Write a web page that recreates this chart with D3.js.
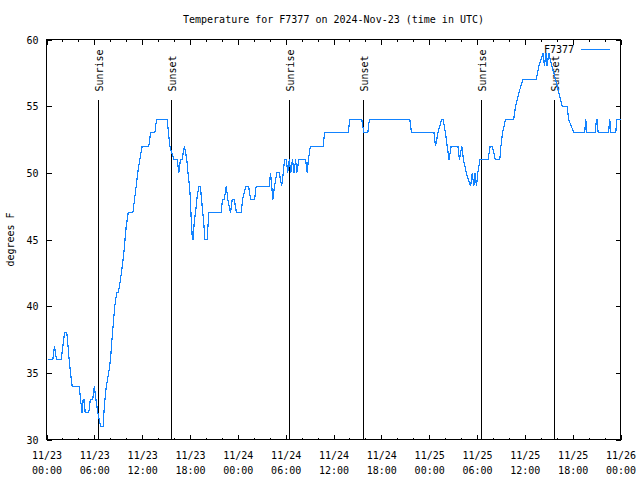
<!DOCTYPE html>
<html>
<head>
<meta charset="utf-8">
<script src="https://cdn.jsdelivr.net/npm/d3@7"></script>
<style>
  html, body { margin: 0; padding: 0; background: #fff; }
  svg { display: block; }
  text { font-family: "DejaVu Sans Mono", monospace; font-size: 10px; fill: #000; }
</style>
</head>
<body>
<svg id="chart" width="640" height="480"></svg>
<script>
// ---- data (hours after 2024-11-23 00:00 UTC, temperature in °F) ----
const hours = [0.2,0.79,1.0,1.25,1.84,2.05,2.26,2.55,2.7,2.84,3.01,3.22,4.1,4.27,4.47,4.6,4.75,4.85,5.3,5.5,5.8,6.0,6.2,6.44,6.77,7.1,7.2,7.33,7.5,7.8,8.03,8.15,8.28,8.42,8.57,8.8,9.0,9.28,9.5,9.7,9.85,10.0,10.25,10.83,11.04,11.25,11.45,11.7,12.0,12.83,13.05,13.59,13.8,15.14,15.3,15.47,15.7,16.0,16.4,16.6,16.8,17.0,17.3,17.6,17.75,17.94,18.05,18.15,18.3,18.4,18.55,18.7,18.85,19.1,19.3,19.45,19.6,19.7,19.86,20.15,20.36,21.9,22.08,22.3,22.54,22.75,23.08,23.3,23.55,23.83,24.42,24.6,24.8,25.0,25.35,25.6,26.1,26.3,27.93,28.1,28.4,28.6,28.9,29.2,29.5,29.7,29.86,30.1,30.25,30.45,30.65,30.85,31.05,31.25,31.4,31.65,32.5,32.7,32.85,33.1,34.7,34.87,37.84,38.05,39.55,39.8,40.3,40.5,45.57,45.78,48.6,48.8,49.1,49.55,49.75,50.05,50.26,50.5,50.76,51.6,51.8,52.1,52.3,52.65,53.2,53.4,53.6,53.75,53.94,54.1,54.37,55.38,55.65,55.9,56.3,56.86,57.0,57.2,57.58,58.6,58.84,59.25,59.75,61.42,61.75,62.3,62.45,62.65,62.8,63.0,63.4,63.85,64.25,64.7,65.3,65.5,66.15,67.5,67.65,67.8,68.8,69.0,69.05,69.2,70.5,70.65,70.8,71.4,71.55,72.0];
const temps = [36,36,37,36,36,37,38,38,37,36,35,34,34,33,32,33,33,32,32,33,33,34,33,32,31,31,32,33,34,35,36,37,38,39,40,41,41,42,43,44,45,46,47,47,48,49,50,51,52,52,53,53,54,54,53,52,51.5,51,51,50,51,51,52,51,50,49,48,46.5,45,45,46.5,47,48,49,49,48,47,46.5,45,45,47,47,48,48,49,48,47,48,48,47,47,48,48.5,49,49,48,48,49,49,50,48,49,50,50,49,50,51,51,50,51,50,51,50,51,50,51,51,50,51,52,52,53,53,54,54,53,53,54,54,53,53,52,53,54,54,53,52,51,52,52,51,52,51,50,49,50,49,50,49,50,51,51,52,52,51,51,52,53,54,54,55,56,57,57,58,59,58,59,58,59,58,57,56,55,55,54,53,53,54,53,53,54,54,53,53,54,53,53,54,54];
const sunriseHours = [6.53, 30.49, 54.51];
const sunsetHours = [15.69, 39.71, 63.67];
const seriesName = "F7377";
const yTickValues = [30, 35, 40, 45, 50, 55, 60];
const titleText = "Temperature for F7377 on 2024-Nov-23 (time in UTC)";
const yLabelText = "degrees F";

// ---- layout ----
const W = 640, H = 480;
const L = 46.5, R = 620.5, T = 39.5, B = 439.5;
const t0 = Date.UTC(2024, 10, 23, 0, 0);
const toDate = h => new Date(t0 + h * 3600e3);

const x = d3.scaleUtc().domain([toDate(0), toDate(72)]).range([L, R]);
const y = d3.scaleLinear().domain([30, 60]).range([B, T]);

const svg = d3.select("#chart");
svg.append("rect").attr("width", W).attr("height", H).attr("fill", "#fff");

const minorTicks = d3.range(0, 73, 2).map(toDate);
const majorTicks = d3.range(0, 73, 6).map(toDate);
const fmtDay = d3.utcFormat("%m/%d"), fmtTime = d3.utcFormat("%H:%M");

function styleAxis(g) {
  g.attr("font-family", null).attr("font-size", null);
  g.select(".domain").remove();
  g.selectAll("line").attr("stroke", "#000").attr("shape-rendering", "crispEdges");
}

// bottom & top minor ticks
svg.append("g").attr("transform", `translate(0,${B})`)
  .call(d3.axisBottom(x).tickValues(minorTicks).tickSize(-2).tickFormat(() => ""))
  .call(styleAxis);
svg.append("g").attr("transform", `translate(0,${T})`)
  .call(d3.axisTop(x).tickValues(minorTicks).tickSize(-2).tickFormat(() => ""))
  .call(styleAxis);
// bottom major ticks with two-line labels
const gxb = svg.append("g").attr("transform", `translate(0,${B})`)
  .call(d3.axisBottom(x).tickValues(majorTicks).tickSize(-5).tickFormat(() => ""))
  .call(styleAxis);
gxb.selectAll(".tick text").remove();
gxb.selectAll(".tick").append("text")
  .attr("text-anchor", "middle")
  .each(function (d) {
    const t = d3.select(this);
    t.append("tspan").attr("x", 0).attr("y", 19).text(fmtDay(d));
    t.append("tspan").attr("x", 0).attr("y", 34).text(fmtTime(d));
  });
svg.append("g").attr("transform", `translate(0,${T})`)
  .call(d3.axisTop(x).tickValues(majorTicks).tickSize(-5).tickFormat(() => ""))
  .call(styleAxis);

// y axes
const gyl = svg.append("g").attr("transform", `translate(${L},0)`)
  .call(d3.axisLeft(y).tickValues(yTickValues).tickSize(-5).tickPadding(8).tickFormat(d3.format("d")))
  .call(styleAxis);
gyl.selectAll(".tick text").attr("x", -8).attr("dy", "0.35em");
svg.append("g").attr("transform", `translate(${R},0)`)
  .call(d3.axisRight(y).tickValues(yTickValues).tickSize(-5).tickFormat(() => ""))
  .call(styleAxis);

// border
svg.append("rect").attr("x", L).attr("y", T).attr("width", R - L).attr("height", B - T)
  .attr("fill", "none").attr("stroke", "#000").attr("shape-rendering", "crispEdges");

// sunrise / sunset markers
const markers = sunriseHours.map(h => ({h, label: "Sunrise"}))
  .concat(sunsetHours.map(h => ({h, label: "Sunset"})));
const lineTop = B - 0.85 * (B - T);
const labelStart = B - 0.87 * (B - T);
const mg = svg.append("g");
markers.forEach(m => {
  const xp = Math.floor(x(toDate(m.h))) + 0.5;
  mg.append("line").attr("x1", xp).attr("x2", xp).attr("y1", lineTop).attr("y2", B)
    .attr("stroke", "#000").attr("shape-rendering", "crispEdges");
  mg.append("text").attr("transform", `translate(${xp + 4.5},${labelStart}) rotate(-90)`)
    .attr("text-anchor", "start").text(m.label);
});

// data line
const data = hours.map((h, i) => ({t: toDate(h), v: temps[i]}));
svg.append("path").datum(data)
  .attr("fill", "none").attr("stroke", "#1283ff").attr("stroke-width", 1.2)
  .attr("shape-rendering", "crispEdges")
  .attr("d", d3.line().x(d => x(d.t)).y(d => y(d.v)));

// legend
svg.append("text").attr("x", 574).attr("y", 53).attr("text-anchor", "end").text(seriesName);
svg.append("line").attr("x1", 581).attr("x2", 610).attr("y1", 49.5).attr("y2", 49.5)
  .attr("stroke", "#1283ff").attr("shape-rendering", "crispEdges");

// title and y label
svg.append("text").attr("x", (L + R) / 2).attr("y", 23).attr("text-anchor", "middle").text(titleText);
svg.append("text").attr("transform", `translate(14,${(T + B) / 2}) rotate(-90)`)
  .attr("text-anchor", "middle").text(yLabelText);
</script>
</body>
</html>
